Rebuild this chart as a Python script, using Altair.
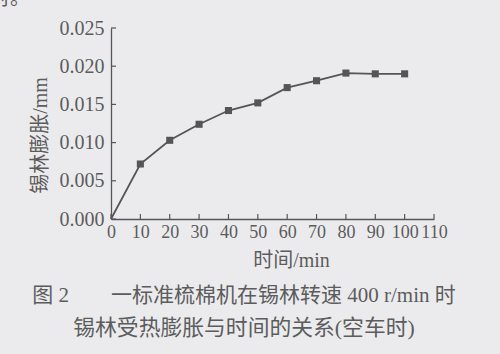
import altair as alt
import pandas as pd

time_min = [0, 10, 20, 30, 40, 50, 60, 70, 80, 90, 100]
expansion_mm = [0.0, 0.0072, 0.0103, 0.0124, 0.0142, 0.0152, 0.0172, 0.0181, 0.0191, 0.0190, 0.0190]
x_ticks = [0, 10, 20, 30, 40, 50, 60, 70, 80, 90, 100, 110]
y_ticks = [0.0, 0.005, 0.010, 0.015, 0.020, 0.025]
caption_1 = "图 2　　一标准梳棉机在锡林转速 400 r/min 时"
caption_2 = "锡林受热膨胀与时间的关系(空车时)"
x_title = "时间/min"
y_title = "锡林膨胀/mm"

W, H = 323, 191
INK = "#555555"
TXT = "#5c5c5c"
FONT = "Liberation Serif, Noto Sans CJK SC"

df = pd.DataFrame({"t": time_min, "e": expansion_mm})
xs = alt.Scale(domain=[0, 110], nice=False)
ys = alt.Scale(domain=[0, 0.025], nice=False)

xaxis = alt.Axis(
    values=x_ticks, format="d", title=x_title, grid=False, ticks=False,
    labelOverlap=False,
    domainColor=INK, domainWidth=1.3, labelFont=FONT, labelFontSize=18,
    labelColor=TXT, labelPadding=4, labelFlush=False,
    titleFont=FONT, titleFontSize=20, titleFontWeight="normal", titleColor=TXT,
    titleX=180, titleY=41, titleAlign="center", titleBaseline="middle")
yaxis = alt.Axis(
    values=y_ticks, format=".3f", title=y_title, grid=False, ticks=False,
    labelOverlap=False,
    domainColor=INK, domainWidth=1.3, labelFont=FONT, labelFontSize=20,
    labelColor=TXT, labelPadding=7, labelFlush=False,
    titleFont=FONT, titleFontSize=20, titleFontWeight="normal", titleColor=TXT,
    titleX=-71, titleY=107, titleAlign="center", titleBaseline="middle", titleAngle=-90)

line = alt.Chart(df).mark_line(color=INK, strokeWidth=1.8).encode(
    x=alt.X("t:Q", scale=xs, axis=xaxis),
    y=alt.Y("e:Q", scale=ys, axis=yaxis),
)

pts = alt.Chart(df).transform_filter("datum.t > 0").mark_point(
    shape="square", filled=True, size=50, color=INK, opacity=1).encode(
    x=alt.X("t:Q", scale=xs, axis=xaxis), y=alt.Y("e:Q", scale=ys, axis=yaxis))

xt = alt.Chart(pd.DataFrame({"v": x_ticks})).mark_rule(color=INK, strokeWidth=1.2).encode(
    x=alt.X("v:Q", scale=xs, axis=xaxis), y=alt.value(H - 5), y2=alt.value(H))
yt = alt.Chart(pd.DataFrame({"v": y_ticks})).mark_rule(color=INK, strokeWidth=1.2).encode(
    y=alt.Y("v:Q", scale=ys, axis=yaxis), x=alt.value(0), x2=alt.value(5))

cap = pd.DataFrame({"txt": [caption_1, caption_2], "px": [133, 133], "py": [268, 300], "fs": [21, 21.8]})
caps = alt.Chart(cap).mark_text(font=FONT, color=TXT, baseline="middle", align="center").encode(
    text="txt:N", x=alt.X("px:Q", scale=None), y=alt.Y("py:Q", scale=None),
    size=alt.Size("fs:Q", scale=None, legend=None))

frag = alt.Chart(pd.DataFrame({"txt": ["对。"]})).mark_text(
    font=FONT, fontSize=20, color=TXT, baseline="bottom", align="left").encode(
    text="txt:N", x=alt.value(-121), y=alt.value(-19))

chart = alt.layer(line, xt, yt, pts, caps, frag).properties(
    width=W, height=H,
    padding={"left": 111, "top": 28, "right": 500 - 111 - W, "bottom": 354 - 28 - H},
    autosize=alt.AutoSizeParams(type="none"),
    background="#ebebee",
).configure_view(stroke=None).configure_axis(labelOverlap=False)

chart.save("out.html", embed_options={"renderer": "svg", "actions": False})
